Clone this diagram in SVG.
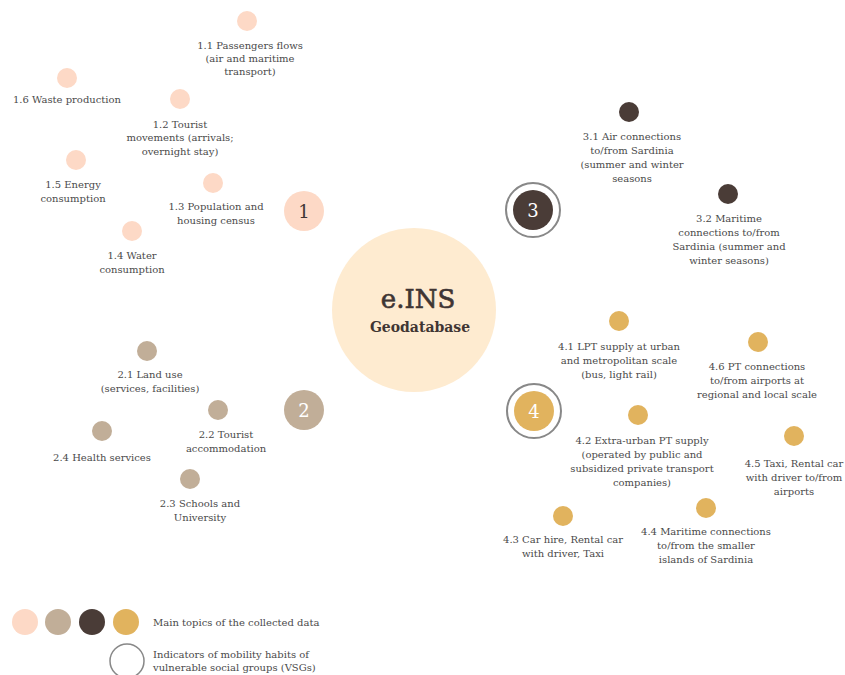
<svg xmlns="http://www.w3.org/2000/svg" width="845" height="675" viewBox="0 0 845 675">
<style>
text{font-family:"DejaVu Serif","Liberation Serif",serif;font-size:10px;fill:#4a4a4a;text-anchor:middle}
.l{text-anchor:start}
.c1{fill:#FDD9C6}
.c2{fill:#C1AE98}
.c3{fill:#4A3C37}
.c4{fill:#E1B35E}
.ring{fill:none;stroke:#888;stroke-width:2}
.num{font-size:18px}
</style>
<rect width="845" height="675" fill="#fff"/>
<g id="center">
<circle cx="414" cy="310" r="82" fill="#FEEBD0"/>
<text x="418" y="308" style="font-size:26px;fill:#3f3533;stroke:#3f3533;stroke-width:0.6">e.INS</text>
<text x="420" y="332" style="font-size:14px;font-weight:bold;fill:#3f3533">Geodatabase</text>
</g>
<g id="connectors"></g>
<g id="topic1"><circle class="c1" cx="304" cy="211" r="20"/><text class="num" x="304" y="218" style="fill:#3f3533">1</text></g>
<g id="topic2"><circle class="c2" cx="304" cy="410" r="20"/><text class="num" x="304" y="417" style="fill:#fff">2</text></g>
<g id="topic3"><circle class="ring" cx="533" cy="210" r="27"/><circle class="c3" cx="533" cy="210" r="20"/><text class="num" x="533" y="217" style="fill:#fff">3</text></g>
<g id="topic4"><circle class="ring" cx="534" cy="411" r="27"/><circle class="c4" cx="534" cy="411" r="20"/><text class="num" x="534" y="418" style="fill:#fff">4</text></g>

<g id="n1-1"><circle class="c1" cx="247" cy="21" r="10"/><text x="250" y="49">1.1  Passengers flows</text><text x="250" y="62">(air and maritime</text><text x="250" y="75">transport)</text></g>
<g id="n1-6"><circle class="c1" cx="67" cy="78" r="10"/><text x="67" y="103">1.6 Waste production</text></g>
<g id="n1-2"><circle class="c1" cx="180" cy="99" r="10"/><text x="180" y="128">1.2 Tourist</text><text x="180" y="141">movements (arrivals;</text><text x="180" y="155">overnight stay)</text></g>
<g id="n1-5"><circle class="c1" cx="76" cy="160" r="10"/><text x="73" y="188">1.5 Energy</text><text x="73" y="202">consumption</text></g>
<g id="n1-3"><circle class="c1" cx="213" cy="183" r="10"/><text x="216" y="210">1.3 Population and</text><text x="216" y="224">housing census</text></g>
<g id="n1-4"><circle class="c1" cx="132" cy="231" r="10"/><text x="132" y="259">1.4 Water</text><text x="132" y="273">consumption</text></g>

<g id="n2-1"><circle class="c2" cx="147" cy="351" r="10"/><text x="150" y="378">2.1 Land use</text><text x="150" y="392">(services, facilities)</text></g>
<g id="n2-2"><circle class="c2" cx="218" cy="410" r="10"/><text x="226" y="438">2.2 Tourist</text><text x="226" y="452">accommodation</text></g>
<g id="n2-4"><circle class="c2" cx="102" cy="431" r="10"/><text x="102" y="461">2.4 Health services</text></g>
<g id="n2-3"><circle class="c2" cx="190" cy="479" r="10"/><text x="200" y="507">2.3 Schools and</text><text x="200" y="521">University</text></g>

<g id="n3-1"><circle class="c3" cx="629" cy="112" r="10"/><text x="632" y="140">3.1 Air connections</text><text x="632" y="154">to/from Sardinia</text><text x="632" y="168">(summer and winter</text><text x="632" y="182">seasons</text></g>
<g id="n3-2"><circle class="c3" cx="728" cy="194" r="10"/><text x="729" y="222">3.2 Maritime</text><text x="729" y="236">connections to/from</text><text x="729" y="250">Sardinia (summer and</text><text x="729" y="264">winter seasons)</text></g>

<g id="n4-1"><circle class="c4" cx="619" cy="321" r="10"/><text x="619" y="350">4.1 LPT supply at urban</text><text x="619" y="364">and metropolitan scale</text><text x="619" y="378">(bus, light rail)</text></g>
<g id="n4-6"><circle class="c4" cx="758" cy="342" r="10"/><text x="757" y="370">4.6 PT connections</text><text x="757" y="384">to/from airports at</text><text x="757" y="398">regional and local scale</text></g>
<g id="n4-2"><circle class="c4" cx="638" cy="415" r="10"/><text x="642" y="444">4.2  Extra-urban PT supply</text><text x="642" y="458">(operated by public and</text><text x="642" y="472">subsidized private transport</text><text x="642" y="486">companies)</text></g>
<g id="n4-5"><circle class="c4" cx="794" cy="436" r="10"/><text x="794" y="467">4.5 Taxi, Rental car</text><text x="794" y="481">with driver to/from</text><text x="794" y="495">airports</text></g>
<g id="n4-3"><circle class="c4" cx="563" cy="516" r="10"/><text x="563" y="543">4.3 Car hire, Rental car</text><text x="563" y="557">with driver, Taxi</text></g>
<g id="n4-4"><circle class="c4" cx="706" cy="508" r="10"/><text x="706" y="535">4.4 Maritime connections</text><text x="706" y="549">to/from the smaller</text><text x="706" y="563">islands of Sardinia</text></g>

<g id="legend">
<circle class="c1" cx="25" cy="622" r="13"/>
<circle class="c2" cx="58" cy="622" r="13"/>
<circle class="c3" cx="92" cy="622" r="13"/>
<circle class="c4" cx="126" cy="622" r="13"/>
<text class="l" x="153" y="626">Main topics of the collected data</text>
<circle cx="127" cy="661" r="17" fill="none" stroke="#888" stroke-width="1.5"/>
<text class="l" x="153" y="658">Indicators of mobility habits of</text>
<text class="l" x="153" y="671">vulnerable social groups (VSGs)</text>
</g>
</svg>
